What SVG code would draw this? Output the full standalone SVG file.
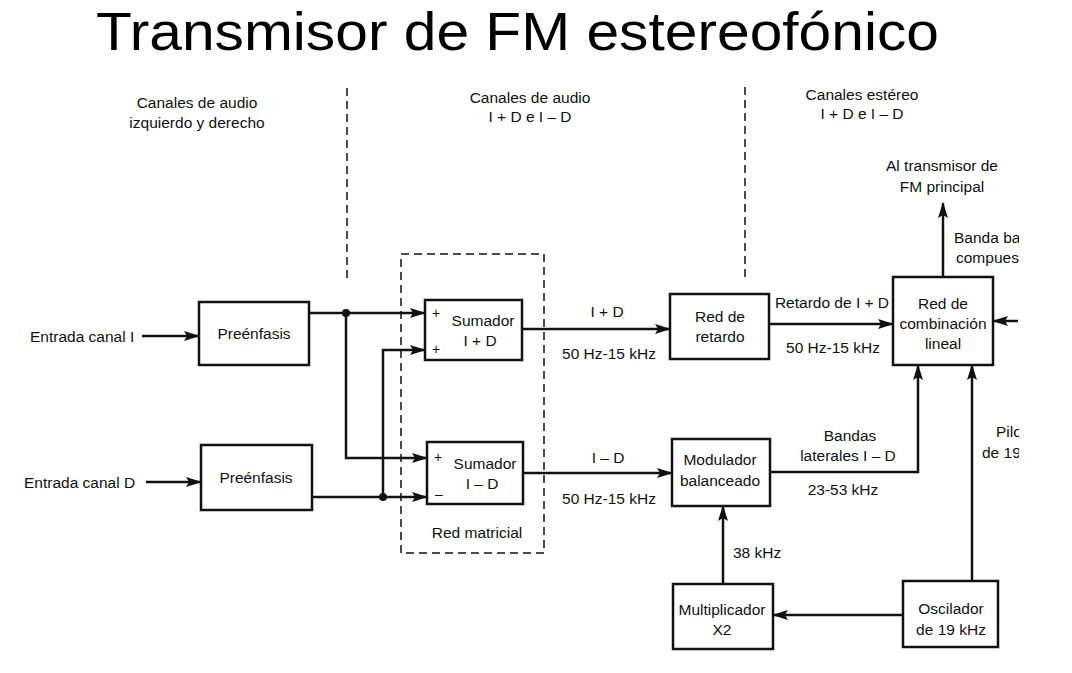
<svg xmlns="http://www.w3.org/2000/svg" width="1072" height="673" viewBox="0 0 1072 673">
<style>
text{font-family:"Liberation Sans",Arial,sans-serif;font-size:15.5px;fill:#111}
.c{text-anchor:middle}
.title{font-size:54px;fill:#000}
.box{fill:#fff;stroke:#111;stroke-width:2.5}
.ln{fill:none;stroke:#111;stroke-width:2.5;marker-end:url(#ah)}
.dash{fill:none;stroke:#111;stroke-width:1.5;stroke-dasharray:8 5}
.sm{font-size:14px}
</style>
<defs>
<marker id="ah" viewBox="0 0 16 10" refX="15" refY="5" markerWidth="16" markerHeight="10" orient="auto" markerUnits="userSpaceOnUse">
<path d="M0,0 L16,5 L0,10 L3,5 z" fill="#111"/>
</marker>
<clipPath id="cut"><rect x="0" y="0" width="1019" height="673"/></clipPath>
</defs>
<rect width="1072" height="673" fill="#fff"/>
<text class="title" x="96" y="50" textLength="843" lengthAdjust="spacingAndGlyphs">Transmisor de FM estereofónico</text>

<g id="headers">
<text class="c" x="197" y="108">Canales de audio</text>
<text class="c" x="197" y="128">izquierdo y derecho</text>
<text class="c" x="530" y="103">Canales de audio</text>
<text class="c" x="530" y="122">I + D e I – D</text>
<text class="c" x="862" y="100">Canales estéreo</text>
<text class="c" x="862" y="119">I + D e I – D</text>
<path class="dash" d="M347,88 V282"/>
<path class="dash" d="M745,87 V277"/>
</g>

<g id="connectors">
<path class="ln" d="M142,336 H199"/>
<path class="ln" d="M146,482 H201"/>
<path class="ln" d="M309,313 H425"/>
<path class="ln" d="M346,313 V458 H427"/>
<path class="ln" d="M312,497 H427"/>
<path class="ln" d="M383,497 V350 H425"/>
<circle cx="346" cy="313" r="4" fill="#111"/>
<circle cx="383" cy="497" r="4" fill="#111"/>
<path class="ln" d="M522,329 H670"/>
<path class="ln" d="M523,473 H672"/>
<path class="ln" d="M769,324 H893"/>
<path class="ln" d="M943,277 V203"/>
<path class="ln" d="M1018,321 H993" clip-path="url(#cut)"/>
<path class="ln" d="M770,472 H918 V365"/>
<path class="ln" d="M972,581 V365"/>
<path class="ln" d="M723,584 V506"/>
<path class="ln" d="M903,615 H773"/>
</g>

<g id="labels">
<text x="30" y="342">Entrada canal I</text>
<text x="24" y="488">Entrada canal D</text>
<text class="c" x="607" y="317">I + D</text>
<text class="c" x="609" y="359">50 Hz-15 kHz</text>
<text class="c" x="608" y="463">I – D</text>
<text class="c" x="609" y="504">50 Hz-15 kHz</text>
<text class="c" x="832" y="308">Retardo de I + D</text>
<text class="c" x="833" y="353">50 Hz-15 kHz</text>
<text class="c" x="942" y="171">Al transmisor de</text>
<text class="c" x="942" y="192">FM principal</text>
<g clip-path="url(#cut)">
<text x="954" y="243">Banda base</text>
<text x="956" y="263">compuesta</text>
<text x="996" y="437">Piloto</text>
<text x="982" y="458">de 19 kHz</text>
</g>
<text class="c" x="850" y="441">Bandas</text>
<text class="c" x="848" y="461">laterales I – D</text>
<text class="c" x="843" y="495">23-53 kHz</text>
<text x="733" y="558">38 kHz</text>
</g>

<g id="preenfasis-i">
<rect class="box" x="199" y="302" width="110" height="63"/>
<text class="c" x="254" y="339">Preénfasis</text>
</g>
<g id="preenfasis-d">
<rect class="box" x="201" y="445" width="111" height="65"/>
<text class="c" x="256" y="483">Preénfasis</text>
</g>

<g id="red-matricial">
<rect class="dash" x="401" y="254" width="143" height="299"/>
<text class="c" x="477" y="538">Red matricial</text>
</g>

<g id="sumador-suma">
<rect class="box" x="425" y="300" width="97" height="60"/>
<text class="sm" x="432" y="318">+</text>
<text class="c" x="483" y="326">Sumador</text>
<text class="c" x="480" y="346">I + D</text>
<text class="sm" x="432" y="354">+</text>
</g>
<g id="sumador-resta">
<rect class="box" x="427" y="442" width="96" height="62"/>
<text class="sm" x="434" y="462">+</text>
<text class="c" x="485" y="469">Sumador</text>
<text class="c" x="482" y="489">I – D</text>
<text class="sm" x="435" y="499">–</text>
</g>

<g id="red-retardo">
<rect class="box" x="670" y="294" width="99" height="65"/>
<text class="c" x="720" y="322">Red de</text>
<text class="c" x="720" y="342">retardo</text>
</g>

<g id="modulador">
<rect class="box" x="672" y="439" width="98" height="67"/>
<text class="c" x="720" y="465">Modulador</text>
<text class="c" x="720" y="486">balanceado</text>
</g>

<g id="red-combinacion">
<rect class="box" x="893" y="277" width="100" height="88"/>
<text class="c" x="943" y="309">Red de</text>
<text class="c" x="943" y="329">combinación</text>
<text class="c" x="943" y="349">lineal</text>
</g>

<g id="multiplicador">
<rect class="box" x="673" y="584" width="100" height="65"/>
<text class="c" x="722" y="615">Multiplicador</text>
<text class="c" x="722" y="635">X2</text>
</g>

<g id="oscilador">
<rect class="box" x="903" y="581" width="95" height="66"/>
<text class="c" x="951" y="614">Oscilador</text>
<text class="c" x="951" y="635">de 19 kHz</text>
</g>
</svg>
